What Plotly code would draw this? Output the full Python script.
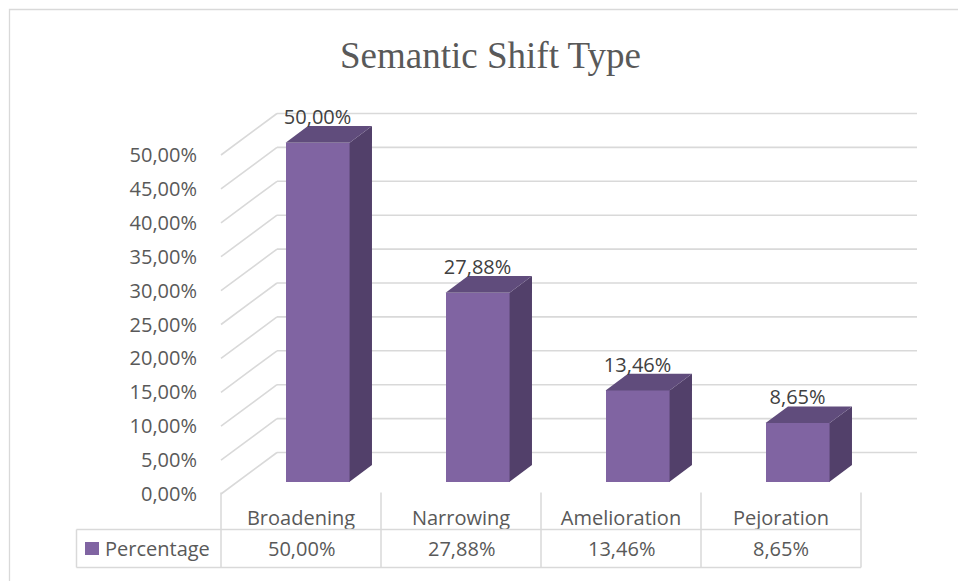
import plotly.graph_objects as go

# ---- data ----
categories = ["Broadening", "Narrowing", "Amelioration", "Pejoration"]
percentages = [50.00, 27.88, 13.46, 8.65]
y_ticks = [0, 5, 10, 15, 20, 25, 30, 35, 40, 45, 50]
series_name = "Percentage"
chart_title = "Semantic Shift Type"

# ---- page geometry ----
W, H = 958, 581
X0_PX, CAT_PX = 301, 160      # centre of first category on the front plane, px per category
Y0_PX, PCT_PX = 494, 6.78     # 0 % on the front plane, px per percentage point

x_range = [(0 - X0_PX) / CAT_PX, (W - X0_PX) / CAT_PX]
y_range = [(Y0_PX - H) / PCT_PX, Y0_PX / PCT_PX]


def px_x(px):
    return px / W


def px_y(py):
    return 1 - py / H


# oblique projection of the depth direction (data units for a full floor depth)
DEPTH_X = 56 / CAT_PX
DEPTH_Y = 41.5 / PCT_PX
BAR_FRONT = 0.296      # where the bar front sits within the floor depth
BAR_DEPTH = 0.40       # bar thickness as a share of the floor depth
BAR_W = 0.4            # bar width in categories
FLOOR_LEFT = -0.5
WALL_RIGHT = (917 - X0_PX) / CAT_PX
LABEL_DROP = 3 / PCT_PX  # pull the value labels slightly towards the bar tops

FRONT_COLOR = "#8064A2"
SIDE_COLOR = "#52406A"
TOP_COLOR = "#604C7C"
GRID_COLOR = "#D9D9D9"
TEXT_COLOR = "#595959"
FONT = "Open Sans"


def fmt_pct(v):
    return f"{v:.2f}".replace(".", ",") + "%"


fig = go.Figure()

shapes = []
grid_style = dict(color=GRID_COLOR, width=1.6)
# gridlines: side wall diagonal + back wall horizontal, kept beneath the bars
for t in y_ticks:
    shapes.append(dict(type="line", xref="x", yref="y", layer="below",
                       x0=FLOOR_LEFT, y0=t, x1=FLOOR_LEFT + DEPTH_X, y1=t + DEPTH_Y,
                       line=grid_style))
    shapes.append(dict(type="line", xref="x", yref="y", layer="below",
                       x0=FLOOR_LEFT + DEPTH_X, y0=t + DEPTH_Y, x1=WALL_RIGHT, y1=t + DEPTH_Y,
                       line=grid_style))

# bars
base = BAR_FRONT * DEPTH_Y
bar_x = [i + BAR_FRONT * DEPTH_X for i in range(len(categories))]
dx, dy = BAR_DEPTH * DEPTH_X, BAR_DEPTH * DEPTH_Y

fig.add_trace(go.Bar(x=bar_x, y=percentages, base=base, width=BAR_W,
                     marker=dict(color=FRONT_COLOR, line=dict(width=0)),
                     name=series_name, showlegend=False, hoverinfo="skip"))

for xc, v in zip(bar_x, percentages):
    xl, xr = xc - BAR_W / 2, xc + BAR_W / 2
    top = base + v
    # right side face
    fig.add_trace(go.Scatter(
        x=[xr, xr + dx, xr + dx, xr, xr],
        y=[base, base + dy, top + dy, top, base],
        mode="lines", fill="toself", fillcolor=SIDE_COLOR,
        line=dict(width=0, color=SIDE_COLOR), hoverinfo="skip", showlegend=False))
    # top face
    fig.add_trace(go.Scatter(
        x=[xl, xr, xr + dx, xl + dx, xl],
        y=[top, top, top + dy, top + dy, top],
        mode="lines", fill="toself", fillcolor=TOP_COLOR,
        line=dict(width=0, color=TOP_COLOR), hoverinfo="skip", showlegend=False))

# data labels above each bar
fig.add_trace(go.Scatter(
    x=bar_x, y=[base + v + dy - LABEL_DROP for v in percentages],
    mode="text", text=[fmt_pct(v) for v in percentages],
    textposition="top center",
    textfont=dict(family=FONT, size=20, color="#404040"),
    hoverinfo="skip", showlegend=False))

line_style = dict(color=GRID_COLOR, width=1.5)
# outer chart border
shapes.append(dict(type="rect", xref="paper", yref="paper",
                   x0=px_x(9.5), x1=px_x(990), y0=px_y(9.5), y1=px_y(600),
                   line=dict(color=GRID_COLOR, width=1.3)))
# data table
for k in range(len(categories) + 1):
    shapes.append(dict(type="line", xref="x", yref="paper",
                       x0=FLOOR_LEFT + k, x1=FLOOR_LEFT + k,
                       y0=px_y(492.5), y1=px_y(567.5), line=line_style))
for ypx in (529.5, 567.5):
    shapes.append(dict(type="line", xref="paper", yref="paper",
                       x0=px_x(76.5), x1=px_x(861), y0=px_y(ypx), y1=px_y(ypx),
                       line=line_style))
shapes.append(dict(type="line", xref="paper", yref="paper",
                   x0=px_x(76.5), x1=px_x(76.5), y0=px_y(529.5), y1=px_y(567.5),
                   line=line_style))
# legend key
shapes.append(dict(type="rect", xref="paper", yref="paper",
                   x0=px_x(85), x1=px_x(99), y0=px_y(555), y1=px_y(542),
                   fillcolor=FRONT_COLOR, line=dict(width=0)))

annotations = [dict(xref="paper", yref="paper", x=px_x(103), y=px_y(548.5),
                    xanchor="left", yanchor="middle", text=series_name,
                    showarrow=False, font=dict(family=FONT, size=20, color=TEXT_COLOR))]
for i, v in enumerate(percentages):
    annotations.append(dict(xref="x", yref="paper", x=i, y=px_y(548.5),
                            xanchor="center", yanchor="middle", text=fmt_pct(v),
                            showarrow=False,
                            font=dict(family=FONT, size=20, color=TEXT_COLOR)))

fig.update_layout(
    width=W, height=H,
    margin=dict(l=0, r=0, t=0, b=0),
    paper_bgcolor="white", plot_bgcolor="white",
    separators=",.",
    showlegend=False,
    bargap=0,
    title=dict(text=chart_title, x=px_x(490.5), y=px_y(55),
               xanchor="center", yanchor="middle", xref="paper", yref="paper",
               font=dict(family="Liberation Serif", size=37, color=TEXT_COLOR)),
    xaxis=dict(range=x_range, domain=[0, 1], anchor="free", position=px_y(492),
               tickvals=list(range(len(categories))), ticktext=categories,
               ticks="outside", ticklen=8, tickcolor="rgba(0,0,0,0)",
               tickfont=dict(family=FONT, size=20, color=TEXT_COLOR),
               showgrid=False, zeroline=False, showline=False, automargin=False,
               fixedrange=True),
    yaxis=dict(range=y_range, domain=[0, 1], anchor="free", position=px_x(221),
               tickvals=y_ticks, ticktext=[fmt_pct(t) for t in y_ticks],
               ticks="outside", ticklen=20, tickcolor="rgba(0,0,0,0)",
               tickfont=dict(family=FONT, size=20, color=TEXT_COLOR),
               showgrid=False, zeroline=False, showline=False, automargin=False,
               fixedrange=True),
    shapes=shapes,
    annotations=annotations,
)

fig.write_html("out.html")
